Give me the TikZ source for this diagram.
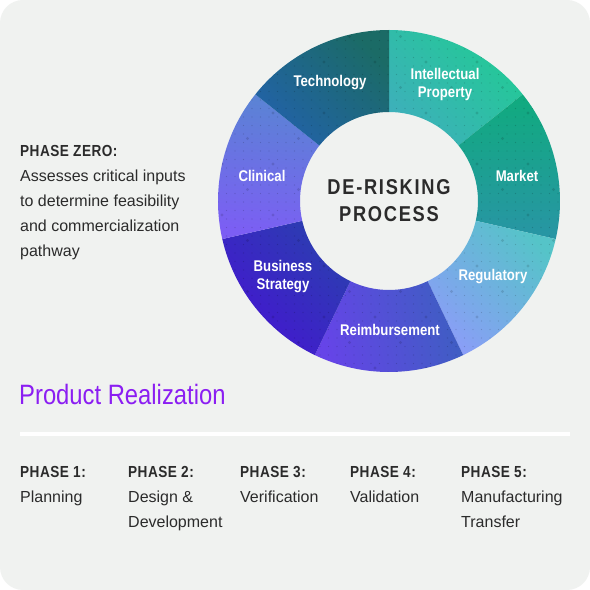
\documentclass[tikz,border=0pt]{standalone}
\usepackage{fontspec}
\setmainfont{Liberation Sans}
\newfontfamily\condfont{Liberation Sans}[FakeStretch=0.85]
\newfontfamily\headfont{Liberation Sans}[FakeStretch=0.85, LetterSpace=3]
\newfontfamily\hubfont{Liberation Sans}[FakeStretch=0.85, LetterSpace=8]
\definecolor{bgc}{HTML}{F0F2F0}
\definecolor{ink}{HTML}{2B2B2B}
\definecolor{realviolet}{HTML}{8B1EF2}
\definecolor{techA}{HTML}{2262A8}
\definecolor{techB}{HTML}{1B6B66}
\definecolor{ipA}{HTML}{3DB0BA}
\definecolor{ipB}{HTML}{22CA95}
\definecolor{mkA}{HTML}{2895A5}
\definecolor{mkB}{HTML}{10AB7E}
\definecolor{regA}{HTML}{8A9EF7}
\definecolor{regB}{HTML}{55C4C8}
\definecolor{reimA}{HTML}{6644E8}
\definecolor{reimB}{HTML}{3E5EC2}
\definecolor{busA}{HTML}{4515D2}
\definecolor{busB}{HTML}{2B3EB0}
\definecolor{cliA}{HTML}{7C5EF4}
\definecolor{cliB}{HTML}{5A84D4}
\usetikzlibrary{positioning}

\begin{document}
\begin{tikzpicture}[x=1pt, y=1pt]

\tikzstyle{seglabel}=[text=white, align=center, font=\condfont\bfseries\fontsize{15.5}{18}\selectfont]
\tikzstyle{phasehead}=[anchor=north west, inner sep=0, align=left, text=ink, font=\fontsize{16}{25}\selectfont]

\fill[white] (0,0) rectangle (590,590);
\fill[bgc, rounded corners=23] (0,0) rectangle (590,590);

\foreach \a/\ca/\cb/\ang in {90/ipA/ipB/135, 38.571/mkA/mkB/180, -12.857/regA/regB/135, -64.286/reimA/reimB/105, -115.714/busA/busB/135, -167.143/cliA/cliB/170, -218.571/techA/techB/135}
  \shade[left color=\ca, right color=\cb, shading angle=\ang]
    ([shift={(389,389)}]\a:171) arc[start angle=\a, end angle=\a-51.4286, radius=171]
    -- ([shift={(389,389)}]\a-51.4286:89) arc[start angle=\a-51.4286, end angle=\a, radius=89] -- cycle;

\begin{scope}[even odd rule]
\clip (389,389) circle (171) (389,389) circle (89);
\foreach \x in {0,...,40}
  \foreach \y in {0,...,40}
    \fill[black, opacity=.16] (218+\x*8.5, 218+\y*8.5) circle (0.7);
\foreach \x in {0,2,...,12}
  \foreach \y in {0,2,...,12}
    \fill[black, opacity=.12] (222+\x*25.5, 222+\y*25.5) circle (1.7);
\foreach \x in {1,3,...,13}
  \foreach \y in {1,3,...,13}
    \fill[black, opacity=.12] (222+\x*25.5, 222+\y*25.5) circle (1.7);
\end{scope}

\node (ip) [seglabel] at (445,506) {Intellectual\\Property};
\node (market) [seglabel] at (517,414) {Market};
\node (regulatory) [seglabel] at (493,313) {Regulatory};
\node (reimb) [seglabel] at (390,260) {Reimbursement};
\node (business) [seglabel] at (283,313) {Business\\Strategy};
\node (clinical) [seglabel] at (262,414) {Clinical};
\node (tech) [seglabel] at (330,507) {Technology};

\node (hub) [text=ink, align=center, font=\hubfont\bfseries\fontsize{21.5}{27}\selectfont] at (389,389) {DE-RISKING\\PROCESS};

\node (zero) [phasehead] at (20,445) {{\headfont\bfseries PHASE ZERO:}\\Assesses critical inputs\\to determine feasibility\\and commercialization\\pathway};

\node (realize) [anchor=base west, inner sep=0, text=realviolet, font=\condfont\fontsize{28}{30}\selectfont] at (19,185) {Product Realization};
\draw[white, line width=4] (20,156) -- (570,156);

\foreach \n/\x/\num/\txt in {p1/20/1/Planning, p2/128/2/{Design \&\\Development}, p3/240/3/Verification, p4/350/4/Validation, p5/461/5/{Manufacturing\\Transfer}}
  \node (\n) [phasehead] at (\x,124) {{\headfont\bfseries PHASE \num:}\\\txt};

\end{tikzpicture}
\end{document}
